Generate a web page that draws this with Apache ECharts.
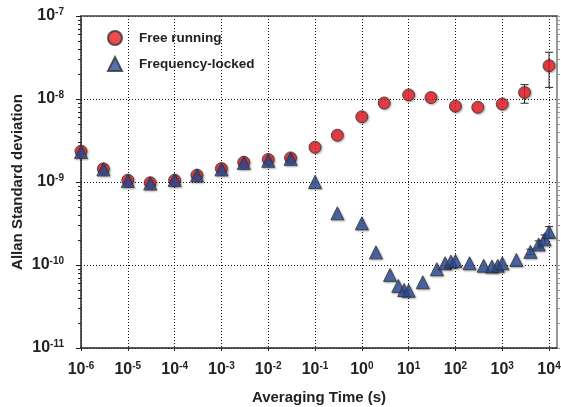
<!DOCTYPE html>
<html>
<head>
<meta charset="utf-8">
<script src="https://cdn.jsdelivr.net/npm/echarts@6/dist/echarts.min.js"></script>
<style>
html,body{margin:0;padding:0;background:#fff;}
#c{width:561px;height:407px;}
</style>
</head>
<body>
<div id="c"></div>
<script>
// ---- data ----
var tauFree = [1e-6, 3e-6, 1e-5, 3e-5, 1e-4, 3e-4, 1e-3, 3e-3, 1e-2, 3e-2, 0.1, 0.3, 1, 3, 10, 30, 100, 300, 1000, 3000, 10000];
var adevFree = [2.35e-9, 1.44e-9, 1.05e-9, 0.98e-9, 1.05e-9, 1.21e-9, 1.45e-9, 1.73e-9, 1.87e-9, 1.95e-9, 2.62e-9, 3.66e-9, 6.1e-9, 8.95e-9, 1.12e-8, 1.04e-8, 8.2e-9, 7.95e-9, 8.7e-9, 1.2e-8, 2.52e-8];
var freeErrTau = [3000, 10000];
var freeErrLow = [8.9e-9, 1.38e-8];
var freeErrHigh = [1.49e-8, 3.66e-8];

var tauLocked = [1e-6, 3e-6, 1e-5, 3e-5, 1e-4, 3e-4, 1e-3, 3e-3, 1e-2, 3e-2, 0.1, 0.3, 1, 2, 4, 6, 8, 10, 20, 40, 60, 80, 100, 200, 400, 600, 800, 1000, 2000, 4000, 6000, 8000, 10000];
var adevLocked = [2.3e-9, 1.42e-9, 1.03e-9, 0.96e-9, 1.06e-9, 1.2e-9, 1.42e-9, 1.7e-9, 1.8e-9, 1.9e-9, 1.0e-9, 4.2e-10, 3.18e-10, 1.42e-10, 7.6e-11, 5.6e-11, 5.0e-11, 4.9e-11, 6.2e-11, 8.9e-11, 1.05e-10, 1.1e-10, 1.12e-10, 1.05e-10, 0.98e-10, 0.96e-10, 0.98e-10, 1.05e-10, 1.15e-10, 1.44e-10, 1.77e-10, 2.04e-10, 2.5e-10];
var lockedErrTau = [4000, 6000, 8000, 10000];
var lockedErrLow = [1.33e-10, 1.6e-10, 1.8e-10, 2.15e-10];
var lockedErrHigh = [1.55e-10, 1.95e-10, 2.3e-10, 2.9e-10];

var seriesNames = ['Free running', 'Frequency-locked'];
var xTitle = 'Averaging Time (s)';
var yTitle = 'Allan Standard deviation';
var xMin = 1e-6, xMax = Math.pow(10, 4.17);
var yMin = 1e-11, yMax = 1e-7;
var yMinorTicks = [];
for (var d = -11; d < -7; d++) { for (var m = 2; m <= 9; m++) yMinorTicks.push(m * Math.pow(10, d)); }
var yAllTicks = yMinorTicks.concat([1e-11, 1e-10, 1e-9, 1e-8, 1e-7]);

// ---- helpers ----
function zip(a, b) { return a.map(function (v, i) { return [v, b[i]]; }); }
function zip3(a, b, c) { return a.map(function (v, i) { return [v, b[i], c[i]]; }); }
var FONT = 'Liberation Sans, Arial, sans-serif';
function powLabel(v) {
  var l = Math.log10(v);
  var e = Math.round(l);
  if (Math.abs(l - e) > 1e-6) return '';
  return '{b|10}{s|' + e + '}';
}
var richLab = {
  b: { fontSize: 16, fontWeight: 'bold', fontFamily: FONT, color: '#222', lineHeight: 18 },
  s: { fontSize: 10, fontWeight: 'bold', fontFamily: FONT, color: '#222', verticalAlign: 'top', lineHeight: 18, padding: [0, 0, 8, 0] }
};
var dotted = { color: '#111', width: 1, type: [1, 2] };

function errRender(params, api) {
  var x = api.value(0);
  var lo = api.coord([x, api.value(1)]);
  var hi = api.coord([x, api.value(2)]);
  var w = 4;
  var st = { stroke: '#222', lineWidth: 1 };
  return {
    type: 'group',
    children: [
      { type: 'line', shape: { x1: lo[0], y1: lo[1], x2: hi[0], y2: hi[1] }, style: st },
      { type: 'line', shape: { x1: lo[0] - w, y1: lo[1], x2: lo[0] + w, y2: lo[1] }, style: st },
      { type: 'line', shape: { x1: hi[0] - w, y1: hi[1], x2: hi[0] + w, y2: hi[1] }, style: st }
    ]
  };
}

var shadow = { shadowColor: 'rgba(0,0,0,0.35)', shadowBlur: 2, shadowOffsetX: 1, shadowOffsetY: 1 };

var chart = echarts.init(document.getElementById('c'), null, { renderer: 'canvas' });
chart.setOption({
  backgroundColor: '#fff',
  animation: false,
  grid: { left: 81, top: 16, right: 4, bottom: 59, containLabel: false, outerBoundsMode: 'none' },
  legend: {
    left: 102, top: 25, orient: 'vertical', itemWidth: 14, itemHeight: 14, itemGap: 10,
    textStyle: { fontSize: 13.5, fontWeight: 'bold', fontFamily: FONT, color: '#222', padding: [0, 0, 0, 12] },
    data: [{ name: seriesNames[0], icon: 'circle' }, { name: seriesNames[1], icon: 'triangle' }]
  },
  xAxis: [{
    type: 'log', logBase: 10, min: xMin, max: xMax, interval: 1, position: 'bottom',
    name: xTitle, nameLocation: 'middle', nameGap: 42,
    nameTextStyle: { fontSize: 15, fontWeight: 'bold', fontFamily: FONT, color: '#222' },
    axisLine: { lineStyle: { color: '#222', width: 1.5 } },
    axisTick: { show: true, length: 3, inside: false, lineStyle: { color: '#222' } },
    axisLabel: { formatter: powLabel, rich: richLab, margin: 13, showMaxLabel: false },
    splitLine: { show: true, lineStyle: dotted }
  }, {
    type: 'log', logBase: 10, min: xMin, max: xMax, interval: 1, position: 'top',
    axisLine: { lineStyle: { color: '#444', width: 1.5 } },
    axisTick: { show: false }, axisLabel: { show: false }, splitLine: { show: false }
  }],
  yAxis: [{
    type: 'log', logBase: 10, min: yMin, max: yMax, interval: 1, position: 'left',
    name: yTitle, nameLocation: 'middle', nameGap: 56, nameMoveOverlap: false,
    nameTextStyle: { fontSize: 15, fontWeight: 'bold', fontFamily: FONT, color: '#222' },
    axisLine: { show: true, lineStyle: { color: '#222', width: 1.5 } },
    axisTick: { show: true, length: 5, lineStyle: { color: '#222' } },
    axisLabel: { formatter: powLabel, rich: richLab, margin: 17 },
    splitLine: { show: true, lineStyle: dotted }
  }, {
    type: 'log', logBase: 10, min: yMin, max: yMax, position: 'left',
    axisLine: { show: false },
    axisTick: { show: true, length: 3, customValues: yMinorTicks, lineStyle: { color: '#222' } },
    axisLabel: { show: false }, splitLine: { show: false }
  }, {
    type: 'log', logBase: 10, min: yMin, max: yMax, position: 'right',
    axisLine: { show: true, lineStyle: { color: '#999', width: 2 } },
    axisTick: { show: true, length: 3, customValues: yAllTicks, lineStyle: { color: '#999' } },
    axisLabel: { show: false }, splitLine: { show: false }
  }],
  series: [{
    name: seriesNames[0], type: 'scatter', xAxisIndex: 0, yAxisIndex: 0,
    symbol: 'circle', symbolSize: 12, z: 3,
    itemStyle: Object.assign({ color: '#ec1c24', borderColor: '#333', borderWidth: 1 }, shadow),
    data: zip(tauFree, adevFree)
  }, {
    type: 'custom', xAxisIndex: 0, yAxisIndex: 0, z: 2, renderItem: errRender,
    data: zip3(freeErrTau, freeErrLow, freeErrHigh)
  }, {
    type: 'custom', xAxisIndex: 0, yAxisIndex: 0, z: 2, renderItem: errRender,
    data: zip3(lockedErrTau, lockedErrLow, lockedErrHigh)
  }, {
    name: seriesNames[1], type: 'scatter', xAxisIndex: 0, yAxisIndex: 0,
    symbol: 'triangle', symbolSize: 13, z: 4,
    itemStyle: Object.assign({ color: '#2d4d9e', borderColor: '#333', borderWidth: 1 }, shadow),
    data: zip(tauLocked, adevLocked)
  }]
});
</script>
</body>
</html>
